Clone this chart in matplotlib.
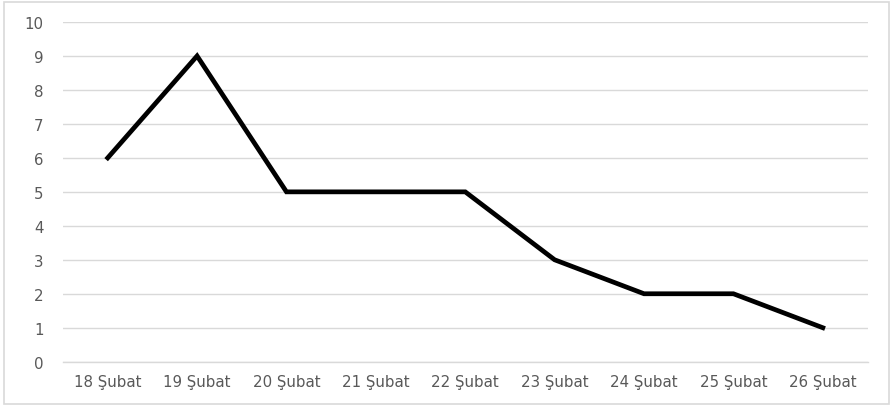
import matplotlib.pyplot as plt
from matplotlib.patches import Rectangle

days = ['18 Şubat', '19 Şubat', '20 Şubat', '21 Şubat', '22 Şubat',
        '23 Şubat', '24 Şubat', '25 Şubat', '26 Şubat']
values = [6, 9, 5, 5, 5, 3, 2, 2, 1]

fig = plt.figure(figsize=(8.9, 4.06), dpi=100)
ax = fig.add_axes([63 / 890, 1 - 362.7 / 406, (867.5 - 63) / 890, (362.7 - 23) / 406])

x = list(range(len(days)))
ax.plot(x, values, color='black', linewidth=3.4, solid_joinstyle='miter', zorder=3)

ax.set_xlim(-0.5, len(days) - 0.5)
ax.set_ylim(0, 10)
ax.set_yticks(range(0, 11))
ax.set_xticks(x)
ax.set_xticklabels(days)
ax.grid(axis='y', color='#d9d9d9', linewidth=1.0)
ax.set_axisbelow(True)
for s in ax.spines.values():
    s.set_visible(False)
ax.spines['bottom'].set_visible(True)
ax.spines['bottom'].set_color('#d9d9d9')
ax.spines['bottom'].set_linewidth(1.0)
ax.tick_params(axis='both', length=0, labelsize=10.8, labelcolor='#595959')
ax.tick_params(axis='y', pad=14)
ax.tick_params(axis='x', pad=9)

# chart frame
fig.patches.append(Rectangle((3.5 / 890, 1 / 406), 885 / 890, 402 / 406,
                             transform=fig.transFigure, fill=False,
                             edgecolor='#d9d9d9', linewidth=1.2))

plt.savefig('out.png', dpi=100)
